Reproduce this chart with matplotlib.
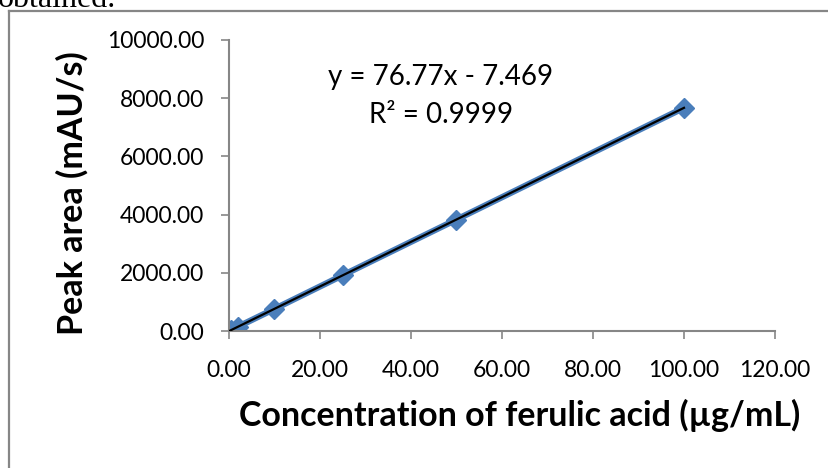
import matplotlib
matplotlib.use("Agg")
import matplotlib.pyplot as plt
import numpy as np
from matplotlib.lines import Line2D

# calibration data
conc = [0.5, 2.0, 10.0, 25.0, 50.0, 100.0]
area = [35.0, 150.0, 760.0, 1915.0, 3830.0, 7670.0]
x_ticks = [0, 20, 40, 60, 80, 100, 120]
y_ticks = [0, 2000, 4000, 6000, 8000, 10000]
eq_text = "y = 76.77x - 7.469"
r2_text = "R\u00b2 = 0.9999"

blue = "#4A7EBB"
grey = "#868686"

plt.rcParams['font.family'] = ['Lato', 'DejaVu Sans']

W, H = 829, 468
fig = plt.figure(figsize=(W / 100, H / 100), dpi=100)
ax = fig.add_axes([229 / W, 1 - 331 / H, (775 - 229) / W, (331 - 40) / H])

# series with markers
ax.plot(conc, area, color=blue, lw=4.5, marker="D", markersize=10.5,
        markerfacecolor=blue, markeredgecolor=blue, solid_capstyle="butt", zorder=2)

# linear trendline
k, b = np.polyfit(conc, area, 1)
xs = np.array([0, max(conc)])
ax.plot(xs, k * xs + b, color="black", lw=1.6, zorder=3)

ax.set_xlim(0, 120)
ax.set_ylim(0, 10000)
ax.set_xticks(x_ticks)
ax.set_yticks(y_ticks)
ax.set_xticklabels([f"{v:.2f}" for v in x_ticks])
ax.set_yticklabels([f"{v:.2f}" for v in y_ticks])

for s in ["top", "right"]:
    ax.spines[s].set_visible(False)
for s in ["left", "bottom"]:
    ax.spines[s].set_color(grey)
    ax.spines[s].set_linewidth(1.5)
ax.tick_params(axis="both", direction="out", length=6, width=1.2, color=grey,
               labelsize=16.5, labelcolor="black")
ax.tick_params(axis="y", pad=12)
ax.tick_params(axis="x", pad=15)

ax.set_xlabel("Concentration of ferulic acid (\u00b5g/mL)", fontsize=24.5,
              fontweight="bold")
ax.set_ylabel("Peak area (mAU/s)", fontsize=24.5, fontweight="bold")
ax.xaxis.set_label_coords(0.533, -0.235)
ax.yaxis.set_label_coords(-0.258, 0.474)

ax.text(441 / W, 1 - 77 / H, eq_text, transform=fig.transFigure,
        ha="center", va="center", fontsize=20)
ax.text(441 / W, 1 - 115 / H, r2_text, transform=fig.transFigure,
        ha="center", va="center", fontsize=20)

# chart frame (only top and left edges are visible in the crop)
fig.add_artist(Line2D([9.5 / W, 1], [1 - 11 / H, 1 - 11 / H], color=grey, lw=1.6,
                      transform=fig.transFigure))
fig.add_artist(Line2D([9.5 / W, 9.5 / W], [1 - 11 / H, 0], color=grey, lw=1.6,
                      transform=fig.transFigure))

# cut-off text above the chart
fig.text(-2 / W, 1 - 7 / H, "obtained.", family="Liberation Serif", fontsize=23,
         ha="left", va="baseline")

fig.savefig("out.png", dpi=100)
